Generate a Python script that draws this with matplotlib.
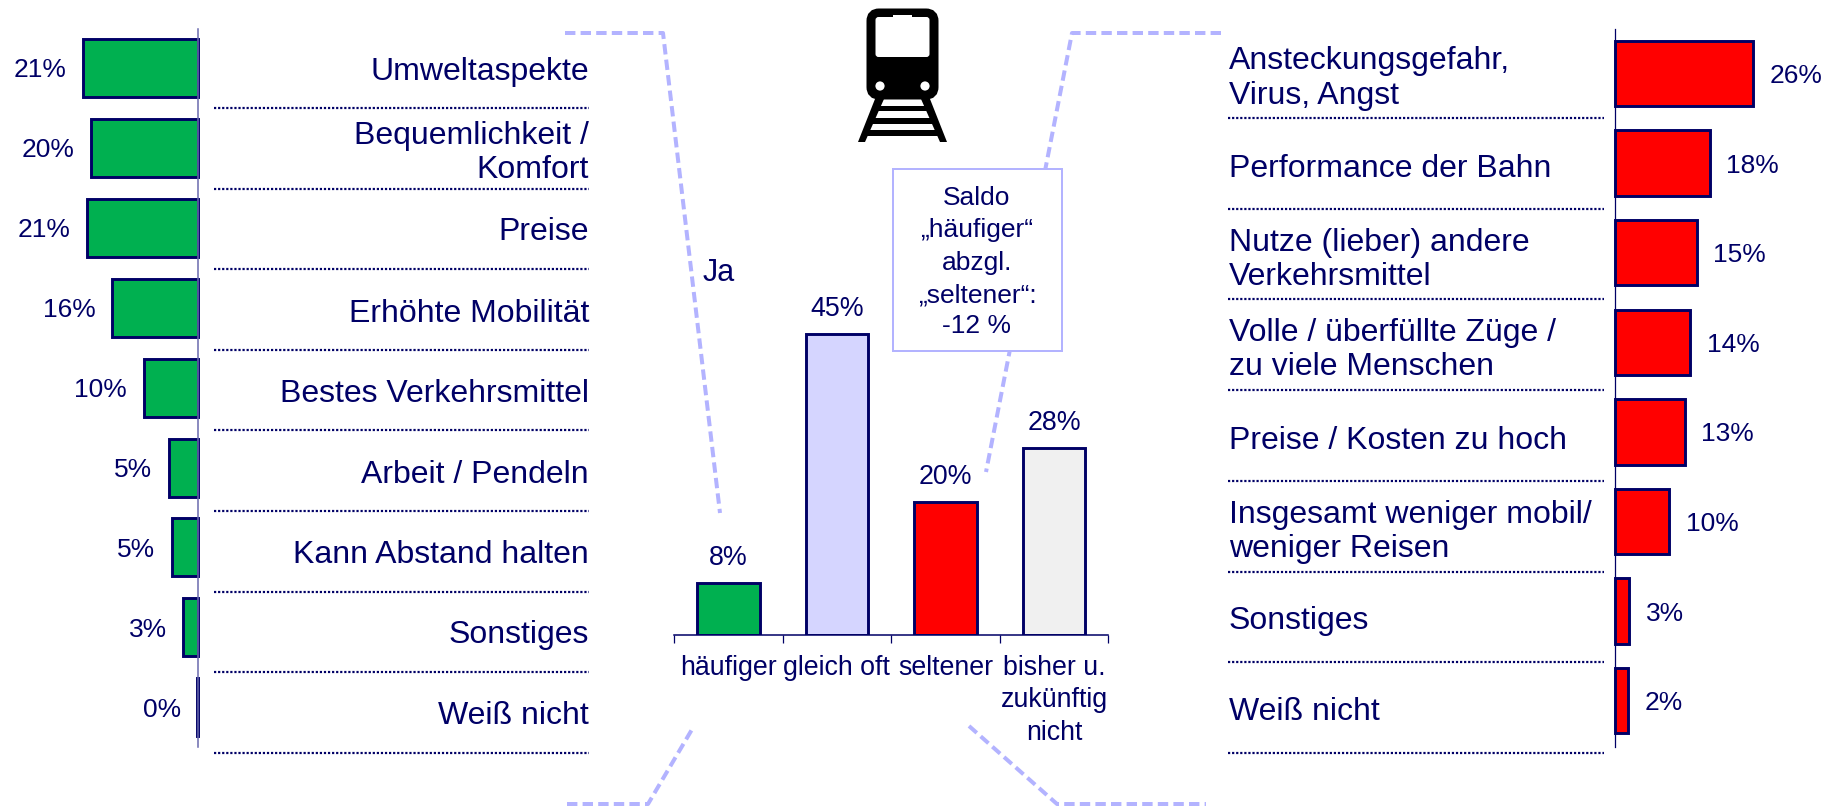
import matplotlib
matplotlib.use('Agg')
import matplotlib.pyplot as plt
from matplotlib.patches import FancyBboxPatch, Polygon, Circle, Rectangle

plt.rcParams['font.family'] = ['Liberation Sans', 'DejaVu Sans']

W, H = 1834, 806
NAVY = '#000066'
DASH = '#B3B3FF'
PX = 0.72  # 1 px in points at dpi 100

# linke Seite: Gruende fuer haeufiger
gruende_plus = ['Umweltaspekte', 'Bequemlichkeit /\nKomfort', 'Preise', 'Erhöhte Mobilität',
                'Bestes Verkehrsmittel', 'Arbeit / Pendeln', 'Kann Abstand halten', 'Sonstiges', 'Weiß nicht']
werte_plus = [21.4, 20.0, 20.7, 16.0, 10.1, 5.4, 4.8, 2.7, 0.1]
labels_plus = ['21%', '20%', '21%', '16%', '10%', '5%', '5%', '3%', '0%']

# Mitte: Antwortverteilung
antworten = ['häufiger', 'gleich oft', 'seltener', 'bisher u.\nzukünftig\nnicht']
werte_mitte = [7.85, 45, 19.85, 28]
labels_mitte = ['8%', '45%', '20%', '28%']
farben_mitte = ['#00B050', '#D5D5FF', '#FF0000', '#F0F0F0']

# rechte Seite: Gruende fuer seltener
gruende_minus = ['Ansteckungsgefahr,\nVirus, Angst', 'Performance der Bahn', 'Nutze (lieber) andere\nVerkehrsmittel',
                 'Volle / überfüllte Züge /\nzu viele Menschen', 'Preise / Kosten zu hoch',
                 'Insgesamt weniger mobil/\nweniger Reisen', 'Sonstiges', 'Weiß nicht']
werte_minus = [26.0, 17.9, 15.4, 14.2, 13.2, 10.2, 2.7, 2.5]
labels_minus = ['26%', '18%', '15%', '14%', '13%', '10%', '3%', '2%']


def px_axes(x0, y0, x1, y1):
    return fig.add_axes([x0 / W, 1 - y1 / H, (x1 - x0) / W, (y1 - y0) / H])


fig = plt.figure(figsize=(W / 100, H / 100), dpi=100, facecolor='white')

# Ebene in Pixelkoordinaten fuer Linien, Texte, Icon
bg = fig.add_axes([0, 0, 1, 1], zorder=0)
bg.set_xlim(0, W)
bg.set_ylim(H, 0)
bg.axis('off')

for xs, ys in [([565, 663, 720], [33, 33, 513]),
               ([567, 648, 694], [804, 804, 726]),
               ([1221, 1072, 986], [33, 33, 472]),
               ([969, 1057, 1206], [726, 804, 804])]:
    bg.plot(xs, ys, color=DASH, lw=4 * PX, ls=(0, (2.6, 1.3)), solid_joinstyle='miter')

bg.text(718.5, 273, 'Ja', color=NAVY, fontsize=22, ha='center', va='center')

# Saldo-Kasten
bg.add_patch(Rectangle((892.6, 169.3), 169, 181.4, fc='white', ec=DASH, lw=2 * PX, zorder=3))
for txt, y in zip(['Saldo', '„häufiger“', 'abzgl.', '„seltener“:', '-12 %'], [198, 230, 263, 295, 326]):
    bg.text(977, y, txt, color=NAVY, fontsize=19, ha='center', va='center', zorder=4)

# Zug-Icon
bg.add_patch(FancyBboxPatch((873, 15), 59, 78, boxstyle='round,pad=0,rounding_size=6',
                            fc='black', ec='black', lw=13 * PX, zorder=2))
bg.add_patch(FancyBboxPatch((875.5, 17), 54, 40, boxstyle='round,pad=0,rounding_size=3',
                            fc='white', ec='none', zorder=3))
bg.add_patch(Rectangle((893, 15), 19, 4, fc='white', ec='none', zorder=3))
for cx in [880, 925]:
    bg.add_patch(Circle((cx, 86), 4.6, fc='white', ec='none', zorder=3))
bg.add_patch(Polygon([(875, 99), (884, 99), (865, 142), (858, 142)], fc='black', ec='none', zorder=2))
bg.add_patch(Polygon([(921, 99), (930, 99), (947, 142), (940, 142)], fc='black', ec='none', zorder=2))
for y0, y1, a, b in [(106, 111, 875, 930), (118, 124, 871, 934), (130, 135.5, 866, 939)]:
    bg.add_patch(Rectangle((a, y0), b - a, y1 - y0, fc='black', ec='none', zorder=2))

# punktierte Trenner
for i in range(len(gruende_plus)):
    y = 108 + 80.6 * i
    bg.plot([213.5, 589], [y, y], color=NAVY, lw=2.2 * PX, ls=(0, (1, 0.85)))
for i in range(len(gruende_minus)):
    y = 118 + 90.7 * i
    bg.plot([1228, 1604], [y, y], color=NAVY, lw=2.2 * PX, ls=(0, (1, 0.85)))

# Beschriftungen der Gruende
for name, y in zip(gruende_plus, [72, 153, 232, 313.7, 393.7, 475, 554.7, 635, 715.7]):
    bg.text(589, y, name, color=NAVY, fontsize=23, ha='right', va='center', linespacing=1.2)
for name, y in zip(gruende_minus, [78.5, 168.7, 260, 350, 441, 532, 621, 712]):
    bg.text(1229, y, name, color=NAVY, fontsize=23, ha='left', va='center', linespacing=1.2)

# Balken links
ax1 = px_axes(0, 29, 197.7, 746.7)
ax1.set_xlim(197.7 / 5.35, 0)
ax1.set_ylim(8.494, -0.488)
ax1.barh(range(len(werte_plus)), werte_plus, height=0.726, color='#00B050', edgecolor=NAVY, linewidth=2.1,
         clip_on=False)
for i, (v, lab) in enumerate(zip(werte_plus, labels_plus)):
    ax1.annotate(lab, (v, i), xytext=(-16.5 * PX, -2.5 * PX), textcoords='offset points',
                 ha='right', va='center', color=NAVY, fontsize=19)
ax1.set_xticks([])
ax1.set_yticks([])
for s in ['top', 'left', 'bottom']:
    ax1.spines[s].set_visible(False)
ax1.spines['right'].set_color('#6A6AAE')
ax1.spines['right'].set_linewidth(1.1)
ax1.patch.set_alpha(0)

# Balken rechts
ax3 = px_axes(1615, 29, 1834, 746.7)
ax3.set_xlim(0, 219 / 5.3)
ax3.set_ylim((746.7 - 73.5) / 89.6, (29 - 73.5) / 89.6)
ax3.barh(range(len(werte_minus)), werte_minus, height=0.731, color='#FF0000', edgecolor=NAVY, linewidth=2.1,
         clip_on=False)
for i, (v, lab) in enumerate(zip(werte_minus, labels_minus)):
    ax3.annotate(lab, (v, i), xytext=(16.5 * PX, -2.5 * PX), textcoords='offset points',
                 ha='left', va='center', color=NAVY, fontsize=19)
ax3.set_xticks([])
ax3.set_yticks([])
for s in ['top', 'right', 'bottom']:
    ax3.spines[s].set_visible(False)
ax3.spines['left'].set_color(NAVY)
ax3.spines['left'].set_linewidth(0.9)
ax3.patch.set_alpha(0)

# Saeulen Mitte
ax2 = px_axes(674, 300.3, 1108.4, 635.3)
ax2.set_xlim(-0.5, 3.5)
ax2.set_ylim(0, 50)
ax2.bar(range(4), werte_mitte, width=0.578, color=farben_mitte, edgecolor=NAVY, linewidth=2.1)
for i, (v, lab) in enumerate(zip(werte_mitte, labels_mitte)):
    ax2.annotate(lab, (i, v), xytext=(0, 25 * PX), textcoords='offset points',
                 ha='center', va='center', color=NAVY, fontsize=19.3)
ax2.set_xticks([-0.5, 0.5, 1.5, 2.5, 3.5])
ax2.set_xticklabels([])
ax2.set_xticks(range(4), antworten, minor=True, color=NAVY, fontsize=19.3, linespacing=1.32)
ax2.tick_params(axis='x', which='major', length=8 * PX, width=0.9, color=NAVY)
ax2.tick_params(axis='x', which='minor', length=0, pad=14)
ax2.set_yticks([])
for s in ['top', 'right', 'left']:
    ax2.spines[s].set_visible(False)
ax2.spines['bottom'].set_color(NAVY)
ax2.spines['bottom'].set_linewidth(1.1)
ax2.patch.set_alpha(0)

fig.savefig('out.png', dpi=100)
